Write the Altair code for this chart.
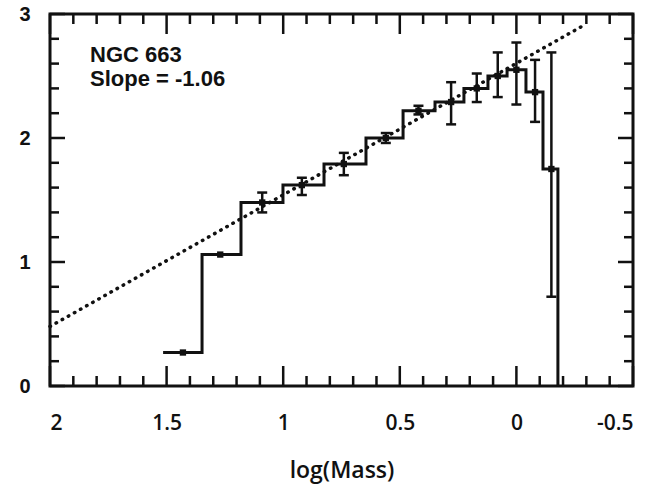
import altair as alt
import pandas as pd

# ---- data ----
bin_edges = [1.515, 1.348, 1.181, 1.001, 0.825, 0.645, 0.486, 0.349, 0.225, 0.122, 0.040, -0.041, -0.114, -0.178]
bin_values = [0.27, 1.06, 1.48, 1.62, 1.79, 2.00, 2.22, 2.29, 2.40, 2.50, 2.55, 2.37, 1.75]
bin_centers = [1.43, 1.27, 1.09, 0.92, 0.74, 0.56, 0.42, 0.28, 0.17, 0.08, 0.00, -0.08, -0.15]
err_low = [0.27, 1.06, 1.40, 1.54, 1.70, 1.96, 2.19, 2.11, 2.29, 2.33, 2.27, 2.13, 0.72]
err_high = [0.27, 1.06, 1.56, 1.68, 1.88, 2.04, 2.26, 2.45, 2.52, 2.69, 2.77, 2.63, 2.69]
fit_x = [2.0, -0.29]
fit_y = [0.48, 2.91]
x_major = [2, 1.5, 1, 0.5, 0, -0.5]
x_minor = [1.9, 1.8, 1.7, 1.6, 1.4, 1.3, 1.2, 1.1, 0.9, 0.8, 0.7, 0.6,
           0.4, 0.3, 0.2, 0.1, -0.1, -0.2, -0.3, -0.4]
y_major = [0, 1, 2, 3]
y_minor = [0.2, 0.4, 0.6, 0.8, 1.2, 1.4, 1.6, 1.8, 2.2, 2.4, 2.6, 2.8]
annotations = ["NGC 663", "Slope = -1.06"]
x_title = "log(Mass)"

W, H = 583, 372
INK = "#111111"

# ---- tables ----
step_rows = []
k = 0
for i, v in enumerate(bin_values):
    step_rows.append({"x": bin_edges[i], "y": v, "i": k}); k += 1
    step_rows.append({"x": bin_edges[i + 1], "y": v, "i": k}); k += 1
step_rows.append({"x": bin_edges[-1], "y": 0.0, "i": k})
step_df = pd.DataFrame(step_rows)

pts_df = pd.DataFrame({"x": bin_centers, "y": bin_values, "lo": err_low, "hi": err_high})
err_df = pts_df[pts_df["hi"] > pts_df["lo"]]
fit_df = pd.DataFrame({"x": fit_x, "y": fit_y, "i": [0, 1]})

xs = alt.Scale(domain=[-0.5, 2], reverse=True, nice=False, zero=False)
ys = alt.Scale(domain=[0, 3], nice=False, zero=False)

x_axis = alt.Axis(values=x_major, labelExpr="'' + datum.value", ticks=False, tickSize=0,
                  domain=False, grid=False, labelPadding=26, labelFont="Open Sans",
                  labelFontSize=21, labelFontWeight=600, labelColor=INK,
                  title=x_title, titleFont="Open Sans", titleFontSize=23, titleFontWeight=600,
                  titleColor=INK, titlePadding=26)
y_axis = alt.Axis(values=y_major, format="d", ticks=False, tickSize=0, domain=False, grid=False,
                  labelPadding=20, labelFont="Liberation Sans", labelFontSize=20,
                  labelFontWeight="bold", labelColor=INK, title=None)


def X(field):
    return alt.X(field, scale=xs, axis=x_axis)


def Y(field):
    return alt.Y(field, scale=ys, axis=y_axis)


fit = alt.Chart(fit_df).mark_line(color=INK, strokeWidth=3.5, strokeDash=[0.5, 6.5],
                                  strokeCap="round", opacity=1).encode(
    x=X("x:Q"), y=Y("y:Q"), order="i:Q")

step = alt.Chart(step_df).mark_line(color=INK, strokeWidth=3, strokeJoin="miter", opacity=1).encode(
    x=X("x:Q"), y=Y("y:Q"), order="i:Q")

bars = alt.Chart(err_df).mark_rule(color=INK, strokeWidth=2.5, opacity=1).encode(
    x=X("x:Q"), y=Y("lo:Q"), y2="hi:Q")
cap_lo = alt.Chart(err_df).mark_tick(color=INK, orient="horizontal", size=10, thickness=2.5,
                                     opacity=1).encode(x=X("x:Q"), y=Y("lo:Q"))
cap_hi = alt.Chart(err_df).mark_tick(color=INK, orient="horizontal", size=10, thickness=2.5,
                                     opacity=1).encode(x=X("x:Q"), y=Y("hi:Q"))
pts = alt.Chart(pts_df).mark_square(color=INK, size=40, opacity=1).encode(
    x=X("x:Q"), y=Y("y:Q"))


def xticks(vals, length):
    d = pd.DataFrame({"t": vals})
    bot = alt.Chart(d).mark_rule(color=INK, strokeWidth=2.5, opacity=1).encode(
        x=X("t:Q"), y=alt.value(H), y2=alt.value(H - length))
    top = alt.Chart(d).mark_rule(color=INK, strokeWidth=2.5, opacity=1).encode(
        x=X("t:Q"), y=alt.value(0), y2=alt.value(length))
    return [bot, top]


def yticks(vals, length):
    d = pd.DataFrame({"t": vals})
    left = alt.Chart(d).mark_rule(color=INK, strokeWidth=2.5, opacity=1).encode(
        y=Y("t:Q"), x=alt.value(0), x2=alt.value(length))
    right = alt.Chart(d).mark_rule(color=INK, strokeWidth=2.5, opacity=1).encode(
        y=Y("t:Q"), x=alt.value(W), x2=alt.value(W - length))
    return [left, right]


tick_layers = xticks(x_major, 20) + xticks(x_minor, 10) + yticks(y_major, 15) + yticks(y_minor, 9)

txt1 = alt.Chart(pd.DataFrame({"t": [annotations[0]]})).mark_text(
    align="left", baseline="alphabetic", font="Liberation Sans", fontSize=22,
    fontWeight="bold", color=INK).encode(x=alt.value(40), y=alt.value(48), text="t:N")
txt2 = alt.Chart(pd.DataFrame({"t": [annotations[1]]})).mark_text(
    align="left", baseline="alphabetic", font="Liberation Sans", fontSize=22,
    fontWeight="bold", color=INK).encode(x=alt.value(40), y=alt.value(72), text="t:N")

chart = alt.layer(fit, step, bars, cap_lo, cap_hi, pts, *tick_layers, txt1, txt2).properties(
    width=W, height=H,
    padding={"left": 50, "top": 14, "right": 20, "bottom": 106},
    autosize=alt.AutoSizeParams(type="none"),
    background="white",
).configure_view(stroke=INK, strokeWidth=3)

chart.save("out.html", embed_options={"renderer": "svg", "actions": False})
